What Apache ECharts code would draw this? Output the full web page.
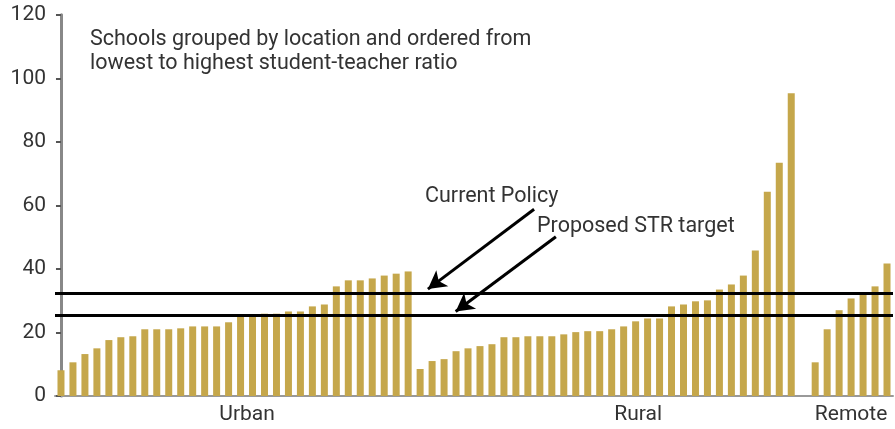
<!DOCTYPE html>
<html>
<head>
<meta charset="utf-8">
<script src="https://cdn.jsdelivr.net/npm/echarts@6/dist/echarts.min.js"></script>
<style>
  html, body { margin: 0; padding: 0; background: #fff; }
  #chart { width: 895px; height: 429px; }
</style>
</head>
<body>
<div id="chart"></div>
<script>
  // student-teacher ratio per school, ordered within each group
  var urban = [8.1, 10.6, 13.2, 15, 17.6, 18.5, 18.8, 21, 21, 21, 21.3, 21.9, 21.9, 21.9, 23.2,
    25.4, 25.4, 25.9, 25.9, 26.6, 26.6, 28.2, 28.8, 34.5, 36.4, 36.4, 37, 37.9, 38.5, 39.2];
  var rural = [8.5, 11, 11.6, 14.1, 15, 15.7, 16.3, 18.5, 18.5, 18.8, 18.8, 18.8, 19.4, 20.1, 20.4, 20.4,
    21, 21.9, 23.5, 24.4, 24.4, 28.2, 28.8, 29.8, 30.1, 33.5, 35.1, 37.9, 45.8, 64.3, 73.4, 95.3];
  var remote = [10.6, 21, 27, 30.7, 32.3, 34.5, 41.7];
  var groupNames = ['Urban', 'Rural', 'Remote'];
  var groupLabelIndex = [15, 48, 66];
  var currentPolicy = 32.3;
  var proposedTarget = 25.5;
  var yTicks = [0, 20, 40, 60, 80, 100, 120];

  // one empty slot between rural and remote
  var values = urban.concat(rural, ['-'], remote);
  var categories = [];
  for (var i = 0; i < values.length; i++) {
    categories.push('s' + i);
  }

  var chart = echarts.init(document.getElementById('chart'));
  var txt = '#333';
  var font = 'Roboto';

  var option = {
    animation: false,
    grid: { left: 55, right: 2, top: 14.7, bottom: 33 },
    xAxis: [{
      type: 'category',
      data: categories,
      axisLine: { lineStyle: { color: '#999', width: 2 } },
      axisTick: { show: false },
      axisLabel: {
        interval: 0,
        margin: 8,
        color: txt,
        fontFamily: font,
        fontSize: 21,
        formatter: function (v, idx) {
          var g = groupLabelIndex.indexOf(idx);
          if (g < 0) return '';
          return '{g' + g + '|' + groupNames[g] + '}';
        },
        rich: {
          g0: { color: txt, fontFamily: font, fontSize: 21, padding: [0, 0, 0, 13] },
          g1: { color: txt, fontFamily: font, fontSize: 21, padding: [0, 0, 0, 5] },
          g2: { color: txt, fontFamily: font, fontSize: 21 }
        }
      }
    }, {
      type: 'value',
      min: -0.5,
      max: values.length - 0.5,
      show: false
    }],
    yAxis: {
      type: 'value',
      min: yTicks[0],
      max: yTicks[yTicks.length - 1],
      interval: 20,
      splitLine: { show: false },
      axisLine: { show: true, lineStyle: { color: '#888', width: 3 } },
      axisTick: { show: true, length: 5, lineStyle: { color: '#555', width: 2 } },
      axisLabel: { color: txt, fontFamily: font, fontSize: 21, margin: 9 }
    },
    series: [{
      type: 'bar',
      data: values,
      barWidth: 7,
      itemStyle: { color: '#c5a74b' },
      silent: true,
      markLine: {
        silent: true,
        symbol: 'none',
        label: { show: false },
        lineStyle: { color: '#000', width: 3, type: 'solid' },
        data: [{ yAxis: currentPolicy }, { yAxis: proposedTarget }]
      }
    }, {
      type: 'line',
      xAxisIndex: 1,
      data: [],
      markLine: {
        silent: true,
        symbol: ['none', 'arrow'],
        symbolSize: [15, 18],
        label: { show: false },
        lineStyle: { color: '#000', width: 3, type: 'solid' },
        data: [
          [{ coord: [39.52, 58.75] }, { coord: [30.65, 33.65] }],
          [{ coord: [41.34, 50.1] }, { coord: [32.97, 26.57] }]
        ]
      }
    }],
    graphic: [
      { type: 'text', left: 90, top: 29, style: { text: 'Schools grouped by location and ordered from', fill: txt, font: '21.5px Roboto' } },
      { type: 'text', left: 90, top: 53, style: { text: 'lowest to highest student-teacher ratio', fill: txt, font: '21.5px Roboto' } },
      { type: 'text', left: 425, top: 186, style: { text: 'Current Policy', fill: txt, font: '21.5px Roboto' } },
      { type: 'text', left: 537, top: 216, style: { text: 'Proposed STR target', fill: txt, font: '21.5px Roboto' } }
    ]
  };

  chart.setOption(option);
</script>
</body>
</html>
